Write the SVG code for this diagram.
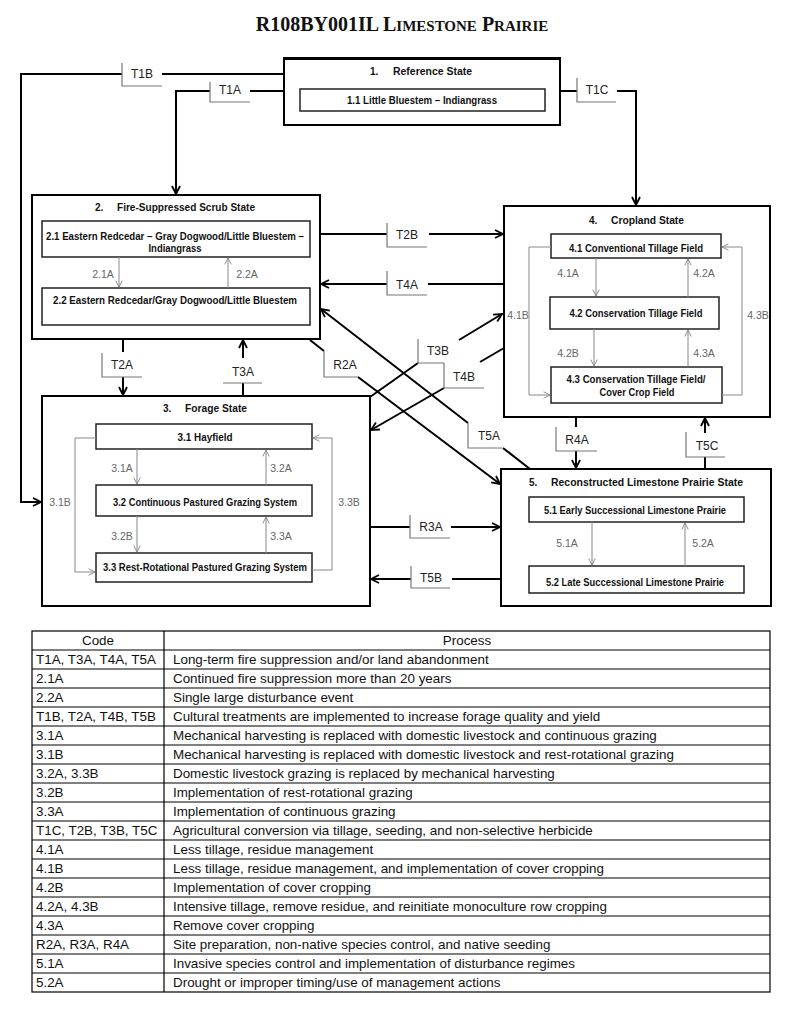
<svg xmlns="http://www.w3.org/2000/svg" width="800" height="1013" viewBox="0 0 800 1013">
<style>
.state{fill:#fff;stroke:#000;stroke-width:2}
.inner{fill:#fff;stroke:#222;stroke-width:1.5}
.st{font-family:'Liberation Sans',Arial,sans-serif;font-weight:bold;font-size:10px;fill:#111}
.stc{font-family:'Liberation Sans',Arial,sans-serif;font-weight:bold;font-size:10px;fill:#111;text-anchor:middle}
.cn{fill:none;stroke:#000;stroke-width:2}
.br{fill:none;stroke:#777;stroke-width:1.2}
.lb{font-family:'Liberation Sans',Arial,sans-serif;font-size:12px;fill:#222;text-anchor:middle}
.tr{fill:none;stroke:#888;stroke-width:1}
.tl{font-family:'Liberation Sans',Arial,sans-serif;font-size:10.5px;fill:#666;text-anchor:middle}
.tb{fill:none;stroke:#000;stroke-width:1.2}
.tt{font-family:'Liberation Sans',Arial,sans-serif;font-size:13.4px;fill:#111}
.th{font-family:'Liberation Sans',Arial,sans-serif;font-size:13.4px;fill:#111;text-anchor:middle}
</style>
<defs>
<marker id="ah" viewBox="0 0 10 10" refX="9" refY="5" markerWidth="10" markerHeight="10" markerUnits="userSpaceOnUse" orient="auto"><path d="M1,1 L9,5 L1,9" fill="none" stroke="#000" stroke-width="1.8"/></marker>
<marker id="ag" viewBox="0 0 10 10" refX="9" refY="5" markerWidth="8" markerHeight="8" markerUnits="userSpaceOnUse" orient="auto"><path d="M1,1 L9,5 L1,9" fill="none" stroke="#888" stroke-width="1.2"/></marker>
</defs>
<rect width="800" height="1013" fill="#fff"/>

<text x="402" y="31" text-anchor="middle" font-family="'Liberation Serif','Times New Roman',serif" font-weight="bold" font-size="20" fill="#111">R108BY001IL L<tspan font-size="15">IMESTONE</tspan> P<tspan font-size="15">RAIRIE</tspan></text>

<g id="connectors">
<path class="cn" d="M284,74 H162"/>
<path class="cn" d="M122,74 H21 V502 H41" marker-end="url(#ah)"/>
<path class="cn" d="M284,91 H250"/>
<path class="cn" d="M210,91 H176 V194" marker-end="url(#ah)"/>
<path class="cn" d="M560,91 H577"/>
<path class="cn" d="M617,91 H636 V205" marker-end="url(#ah)"/>
<path class="cn" d="M320,234 H387"/>
<path class="cn" d="M429,234 H503" marker-end="url(#ah)"/>
<path class="cn" d="M504,284 H428"/>
<path class="cn" d="M387,284 H321" marker-end="url(#ah)"/>
<path class="cn" d="M123,339 V352"/>
<path class="cn" d="M123,377 V395" marker-end="url(#ah)"/>
<path class="cn" d="M243,396 V383"/>
<path class="cn" d="M243,358 V340" marker-end="url(#ah)"/>
<path class="cn" d="M310,340 L324,351"/>
<path class="cn" d="M358,377 L500,484" marker-end="url(#ah)"/>
<path class="cn" d="M530,469 L503,448"/>
<path class="cn" d="M468,423 L321,309" marker-end="url(#ah)"/>
<path class="cn" d="M370,397 L418,363"/>
<path class="cn" d="M459,340 L502,314" marker-end="url(#ah)"/>
<path class="cn" d="M504,348 L480,362"/>
<path class="cn" d="M444,388 L371,430" marker-end="url(#ah)"/>
<path class="cn" d="M370,527 H410"/>
<path class="cn" d="M451,527 H500" marker-end="url(#ah)"/>
<path class="cn" d="M501,579 H452"/>
<path class="cn" d="M411,579 H371" marker-end="url(#ah)"/>
<path class="cn" d="M576,417 V427"/>
<path class="cn" d="M576,451 V468" marker-end="url(#ah)"/>
<path class="cn" d="M705,469 V457"/>
<path class="cn" d="M705,433 V418" marker-end="url(#ah)"/>

<path class="br" d="M122,63 V86 H162"/>
<path class="br" d="M210,82 V102 H250"/>
<path class="br" d="M577,78 V102 H616"/>
<path class="br" d="M387,223 V247 H427"/>
<path class="br" d="M387,271 V295 H427"/>
<path class="br" d="M102,353 V377 H142"/>
<path class="br" d="M223,383 H262"/>
<path class="br" d="M324,351 V377 H358"/>
<path class="br" d="M468,423 V448 H502"/>
<path class="br" d="M418,339 V363 H444"/>
<path class="br" d="M444,363 V388 H484"/>
<path class="br" d="M410,515 V538 H450"/>
<path class="br" d="M411,566 V588 H450"/>
<path class="br" d="M556,427 V451 H597"/>
<path class="br" d="M686,432 V457 H725"/>

<text class="lb" x="142" y="78">T1B</text>
<text class="lb" x="230" y="94">T1A</text>
<text class="lb" x="597" y="94">T1C</text>
<text class="lb" x="407" y="239">T2B</text>
<text class="lb" x="407" y="289">T4A</text>
<text class="lb" x="122" y="369">T2A</text>
<text class="lb" x="243" y="376">T3A</text>
<text class="lb" x="345" y="369">R2A</text>
<text class="lb" x="438" y="355">T3B</text>
<text class="lb" x="464" y="381">T4B</text>
<text class="lb" x="489" y="440">T5A</text>
<text class="lb" x="577" y="444">R4A</text>
<text class="lb" x="707" y="450">T5C</text>
<text class="lb" x="431" y="531">R3A</text>
<text class="lb" x="431" y="582">T5B</text>
</g>

<g id="state1">
<rect class="state" x="284" y="58" width="276" height="67"/>
<line x1="284" y1="58.5" x2="560" y2="58.5" stroke="#000" stroke-width="3"/>
<text class="st" x="370" y="74.5">1.</text>
<text class="st" x="393" y="74.5" textLength="79" lengthAdjust="spacingAndGlyphs">Reference State</text>
<g id="s1-1">
<rect class="inner" x="300" y="89" width="245" height="22"/>
<text class="stc" x="422" y="103.5" textLength="150" lengthAdjust="spacingAndGlyphs">1.1 Little Bluestem – Indiangrass</text>
</g>
</g>

<g id="state2">
<rect class="state" x="32" y="195" width="288" height="144"/>
<text class="st" x="95" y="210.5">2.</text>
<text class="st" x="117" y="210.5" textLength="138" lengthAdjust="spacingAndGlyphs">Fire-Suppressed Scrub State</text>
<g id="s2-1">
<rect class="inner" x="42" y="221" width="268" height="36"/>
<text class="stc" x="175" y="239.5" textLength="258" lengthAdjust="spacingAndGlyphs">2.1  Eastern Redcedar – Gray Dogwood/Little Bluestem –</text>
<text class="stc" x="175" y="252" textLength="53" lengthAdjust="spacingAndGlyphs">Indiangrass</text>
</g>
<g id="s2-2">
<rect class="inner" x="42" y="288" width="268" height="37"/>
<text class="stc" x="175" y="303.5" textLength="244" lengthAdjust="spacingAndGlyphs">2.2  Eastern Redcedar/Gray Dogwood/Little Bluestem</text>
</g>
<path class="tr" d="M119,257 V287" marker-end="url(#ag)"/>
<path class="tr" d="M228,288 V258" marker-end="url(#ag)"/>
<text class="tl" x="103" y="277.5">2.1A</text>
<text class="tl" x="247" y="277.5">2.2A</text>
</g>

<g id="state3">
<rect class="state" x="42" y="396" width="328" height="210"/>
<text class="st" x="163" y="411.5">3.</text>
<text class="st" x="185" y="411.5" textLength="62" lengthAdjust="spacingAndGlyphs">Forage State</text>
<g id="s3-1">
<rect class="inner" x="96" y="424" width="216" height="25"/>
<text class="stc" x="205" y="440.5" textLength="55" lengthAdjust="spacingAndGlyphs">3.1 Hayfield</text>
</g>
<g id="s3-2">
<rect class="inner" x="96" y="485" width="216" height="31"/>
<text class="stc" x="205" y="505.5" textLength="184" lengthAdjust="spacingAndGlyphs">3.2 Continuous Pastured Grazing System</text>
</g>
<g id="s3-3">
<rect class="inner" x="96" y="553" width="216" height="29"/>
<text class="stc" x="205" y="570.5" textLength="204" lengthAdjust="spacingAndGlyphs">3.3 Rest-Rotational Pastured Grazing System</text>
</g>
<path class="tr" d="M137,449 V484" marker-end="url(#ag)"/>
<path class="tr" d="M266,485 V450" marker-end="url(#ag)"/>
<path class="tr" d="M137,516 V552" marker-end="url(#ag)"/>
<path class="tr" d="M266,553 V517" marker-end="url(#ag)"/>
<path class="tr" d="M96,438 H75 V572 H95" marker-end="url(#ag)"/>
<path class="tr" d="M312,570 H332 V438 H313" marker-end="url(#ag)"/>
<text class="tl" x="122" y="471.5">3.1A</text>
<text class="tl" x="281" y="471.5">3.2A</text>
<text class="tl" x="122" y="539.5">3.2B</text>
<text class="tl" x="281" y="539.5">3.3A</text>
<text class="tl" x="60" y="505.5">3.1B</text>
<text class="tl" x="349" y="505.5">3.3B</text>
</g>

<g id="state4">
<rect class="state" x="504" y="206" width="266" height="211"/>
<text class="st" x="589" y="223.5">4.</text>
<text class="st" x="611" y="223.5" textLength="73" lengthAdjust="spacingAndGlyphs">Cropland State</text>
<g id="s4-1">
<rect class="inner" x="551" y="234" width="170" height="24"/>
<text class="stc" x="636" y="251.5" textLength="134" lengthAdjust="spacingAndGlyphs">4.1 Conventional Tillage Field</text>
</g>
<g id="s4-2">
<rect class="inner" x="550" y="297" width="169" height="32"/>
<text class="stc" x="636" y="316.5" textLength="133" lengthAdjust="spacingAndGlyphs">4.2 Conservation Tillage Field</text>
</g>
<g id="s4-3">
<rect class="inner" x="551" y="367" width="171" height="36"/>
<text class="stc" x="636" y="382.5" textLength="139" lengthAdjust="spacingAndGlyphs">4.3 Conservation Tillage Field/</text>
<text class="stc" x="637" y="395.5" textLength="75" lengthAdjust="spacingAndGlyphs">Cover Crop Field</text>
</g>
<path class="tr" d="M596,258 V296" marker-end="url(#ag)"/>
<path class="tr" d="M688,297 V259" marker-end="url(#ag)"/>
<path class="tr" d="M594,329 V366" marker-end="url(#ag)"/>
<path class="tr" d="M688,367 V330" marker-end="url(#ag)"/>
<path class="tr" d="M551,247 H529 V395 H550" marker-end="url(#ag)"/>
<path class="tr" d="M722,395 H742 V247 H722" marker-end="url(#ag)"/>
<text class="tl" x="568" y="276.5">4.1A</text>
<text class="tl" x="704" y="276.5">4.2A</text>
<text class="tl" x="568" y="356.5">4.2B</text>
<text class="tl" x="704" y="356.5">4.3A</text>
<text class="tl" x="518" y="318.5">4.1B</text>
<text class="tl" x="758" y="318.5">4.3B</text>
</g>

<g id="state5">
<rect class="state" x="501" y="469" width="270" height="137"/>
<text class="st" x="529" y="485.5">5.</text>
<text class="st" x="551" y="485.5" textLength="192" lengthAdjust="spacingAndGlyphs">Reconstructed Limestone Prairie State</text>
<g id="s5-1">
<rect class="inner" x="529" y="497" width="215" height="25"/>
<text class="stc" x="635" y="513.5" textLength="182" lengthAdjust="spacingAndGlyphs">5.1 Early Successional Limestone Prairie</text>
</g>
<g id="s5-2">
<rect class="inner" x="529" y="566" width="215" height="27"/>
<text class="stc" x="635" y="585.5" textLength="178" lengthAdjust="spacingAndGlyphs">5.2 Late Successional Limestone Prairie</text>
</g>
<path class="tr" d="M592,522 V565" marker-end="url(#ag)"/>
<path class="tr" d="M685,566 V523" marker-end="url(#ag)"/>
<text class="tl" x="567" y="546.5">5.1A</text>
<text class="tl" x="703" y="546.5">5.2A</text>
</g>

<g id="table">
<rect class="tb" x="32" y="631" width="738" height="361"/>
<line class="tb" x1="164" y1="631" x2="164" y2="992"/>
<path class="tb" d="M32,650H770 M32,669H770 M32,688H770 M32,707H770 M32,726H770 M32,745H770 M32,764H770 M32,783H770 M32,802H770 M32,821H770 M32,840H770 M32,859H770 M32,878H770 M32,897H770 M32,916H770 M32,935H770 M32,954H770 M32,973H770"/>
<text class="th" x="98" y="645">Code</text>
<text class="th" x="467" y="645">Process</text>
<g class="tt">
<text x="36" y="664">T1A, T3A, T4A, T5A</text><text x="173" y="664">Long-term fire suppression and/or land abandonment</text>
<text x="36" y="683">2.1A</text><text x="173" y="683">Continued fire suppression more than 20 years</text>
<text x="36" y="702">2.2A</text><text x="173" y="702">Single large disturbance event</text>
<text x="36" y="721">T1B, T2A, T4B, T5B</text><text x="173" y="721">Cultural treatments are implemented to increase forage quality and yield</text>
<text x="36" y="740">3.1A</text><text x="173" y="740">Mechanical harvesting is replaced with domestic livestock and continuous grazing</text>
<text x="36" y="759">3.1B</text><text x="173" y="759">Mechanical harvesting is replaced with domestic livestock and rest-rotational grazing</text>
<text x="36" y="778">3.2A, 3.3B</text><text x="173" y="778">Domestic livestock grazing is replaced by mechanical harvesting</text>
<text x="36" y="797">3.2B</text><text x="173" y="797">Implementation of rest-rotational grazing</text>
<text x="36" y="816">3.3A</text><text x="173" y="816">Implementation of continuous grazing</text>
<text x="36" y="835">T1C, T2B, T3B, T5C</text><text x="173" y="835">Agricultural conversion via tillage, seeding, and non-selective herbicide</text>
<text x="36" y="854">4.1A</text><text x="173" y="854">Less tillage, residue management</text>
<text x="36" y="873">4.1B</text><text x="173" y="873">Less tillage, residue management, and implementation of cover cropping</text>
<text x="36" y="892">4.2B</text><text x="173" y="892">Implementation of cover cropping</text>
<text x="36" y="911">4.2A, 4.3B</text><text x="173" y="911">Intensive tillage, remove residue, and reinitiate monoculture row cropping</text>
<text x="36" y="930">4.3A</text><text x="173" y="930">Remove cover cropping</text>
<text x="36" y="949">R2A, R3A, R4A</text><text x="173" y="949">Site preparation, non-native species control, and native seeding</text>
<text x="36" y="968">5.1A</text><text x="173" y="968">Invasive species control and implementation of disturbance regimes</text>
<text x="36" y="987">5.2A</text><text x="173" y="987">Drought or improper timing/use of management actions</text>
</g>
</g>
</svg>
